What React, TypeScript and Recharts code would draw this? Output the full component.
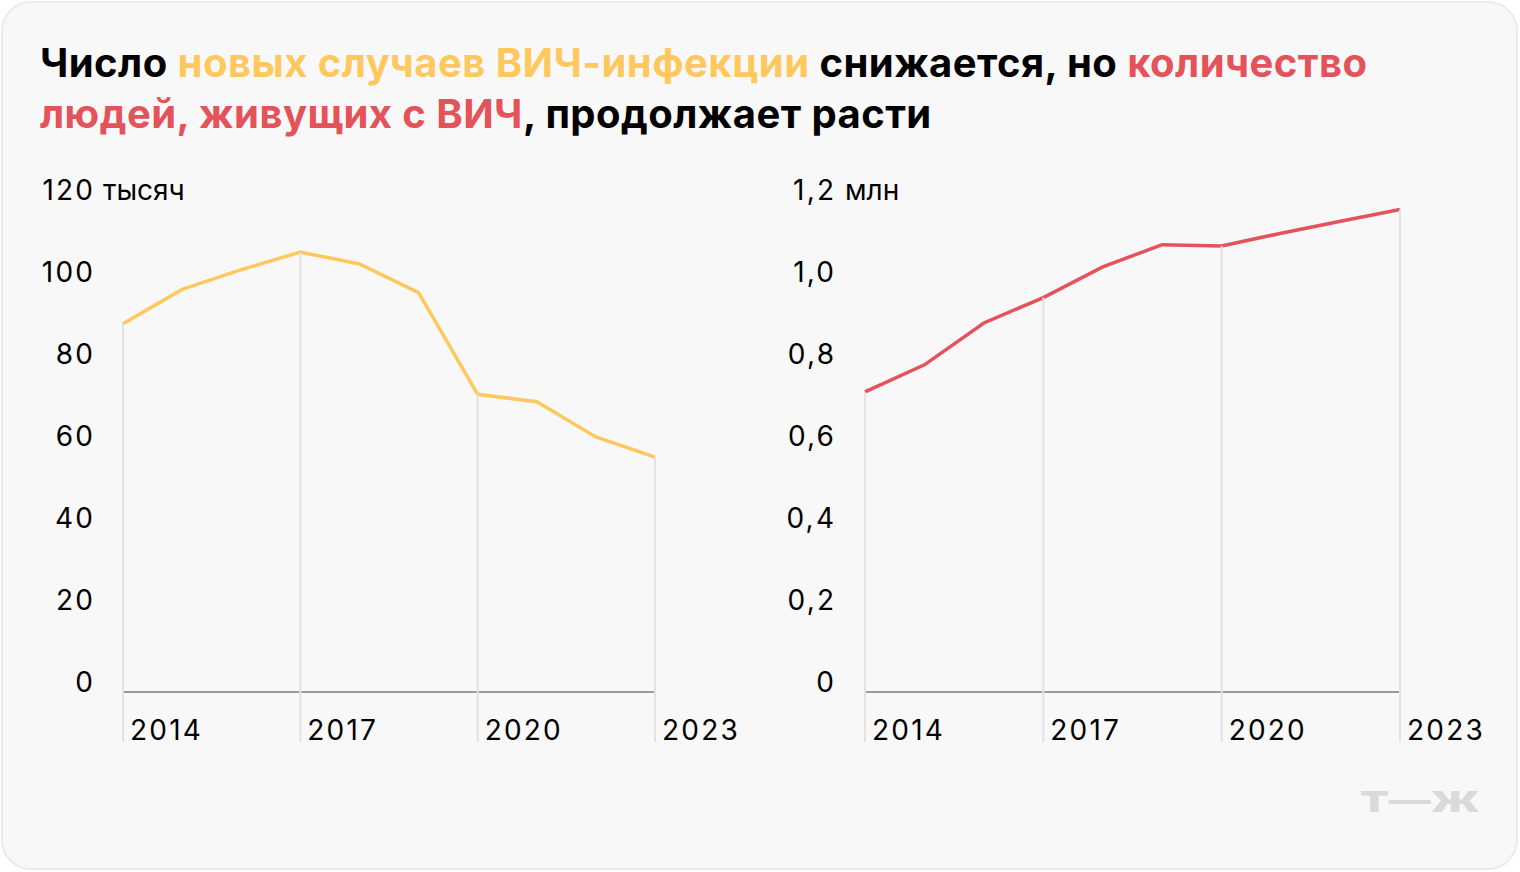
import { LineChart, Line, XAxis, YAxis } from 'recharts';

const years = [2014, 2015, 2016, 2017, 2018, 2019, 2020, 2021, 2022, 2023];
// новые случаи, тысяч
const newCases = [89.8, 98.2, 103.0, 107.3, 104.4, 97.4, 72.6, 70.8, 62.2, 57.3];
// живущие с ВИЧ, млн
const livingWithHiv = [0.732, 0.798, 0.9, 0.962, 1.037, 1.091, 1.088, 1.119, 1.148, 1.177];

const leftTicks = [0, 20, 40, 60, 80, 100, 120];
const rightTicks = [0, 0.2, 0.4, 0.6, 0.8, 1.0, 1.2];

const YELLOW = '#ffc85f';
const RED = '#e4525a';
const FONT = 'Inter, "Noto Sans", sans-serif';
const DIGIT_SPACING = 2.2;

const CHART_H = 620;
const MARGIN = { top: 50, right: 100, bottom: 48, left: 0 };
const X_AXIS_H = 30;
const PLOT_BOTTOM = CHART_H - MARGIN.bottom - X_AXIS_H;
const DROP_BOTTOM = PLOT_BOTTOM + 50;

const leftData = years.map((year, i) => ({ year, value: newCases[i] }));
const rightData = years.map((year, i) => ({ year, value: livingWithHiv[i] }));

const DropLine = (props: any) => {
  const { cx, cy, index } = props;
  if (index % 3 !== 0) return <g key={`d${index}`} />;
  return (
    <line key={`d${index}`} x1={cx} x2={cx} y1={cy} y2={DROP_BOTTOM} stroke="#e2e2e2" strokeWidth={2} />
  );
};

const YearTick = (props: any) => {
  const { x, y, payload } = props;
  return (
    <text
      x={x + 7}
      y={y + 48}
      textAnchor="start"
      fontSize={28}
      fontFamily={FONT}
      letterSpacing={DIGIT_SPACING}
      fill="#000"
    >
      {payload.value}
    </text>
  );
};

const makeValueTick = (format: (v: number) => string, top: number, unit: string, gap: number) => (props: any) => {
  const { x, y, payload } = props;
  const v = payload.value;
  return (
    <g>
      <text
        x={x + DIGIT_SPACING}
        y={y}
        textAnchor="end"
        fontSize={28}
        fontFamily={FONT}
        letterSpacing={DIGIT_SPACING}
        fill="#000"
      >
        {format(v)}
      </text>
      {Math.abs(v - top) < 1e-9 && (
        <text x={x + gap} y={y} textAnchor="start" fontSize={28} fontFamily={FONT} fill="#000">
          {unit}
        </text>
      )}
    </g>
  );
};

const LeftTick = makeValueTick((v) => String(v), 120, 'тысяч', 10);
const RightTick = makeValueTick((v) => (v === 0 ? '0' : v.toFixed(1).replace('.', ',')), 1.2, 'млн', 11);

const Panel = ({ data, color, ticks, max, Tick, tickMargin, width }: any) => (
  <LineChart width={width} height={CHART_H} data={data} margin={MARGIN}>
    <XAxis
      dataKey="year"
      height={X_AXIS_H}
      interval={2}
      tickLine={false}
      tickSize={0}
      tickMargin={0}
      axisLine={{ stroke: '#999', strokeWidth: 2 }}
      tick={<YearTick />}
    />
    <YAxis
      width={123}
      domain={[0, max]}
      ticks={ticks}
      axisLine={false}
      tickLine={false}
      tickSize={0}
      tickMargin={tickMargin}
      tick={<Tick />}
    />
    <Line dataKey="value" stroke="none" dot={DropLine} activeDot={false} isAnimationActive={false} />
    <Line dataKey="value" type="linear" stroke={color} strokeWidth={3.5} dot={false} activeDot={false} isAnimationActive={false} />
  </LineChart>
);

export default function App() {
  return (
    <div style={{ position: 'absolute', left: 0, top: 0, width: 1520, height: 872, background: '#fff', fontFamily: FONT }}>
      <div
        style={{
          position: 'absolute',
          left: 1,
          top: 1,
          width: 1517,
          height: 869,
          boxSizing: 'border-box',
          border: '2px solid #ebebeb',
          borderRadius: 30,
          background: '#f8f8f8',
        }}
      />
      <div
        style={{
          position: 'absolute',
          left: 40,
          top: 37,
          width: 1460,
          fontSize: 40,
          letterSpacing: 0.45,
          lineHeight: '51px',
          fontWeight: 700,
          color: '#000',
        }}
      >
        Число <span style={{ color: YELLOW }}>новых случаев ВИЧ-инфекции</span> снижается, но{' '}
        <span style={{ color: RED }}>количество</span>
        <br />
        <span style={{ color: RED }}>людей, живущих с ВИЧ</span>, продолжает расти
      </div>
      <div style={{ position: 'absolute', left: 0, top: 150 }}>
        <Panel data={leftData} color={YELLOW} ticks={leftTicks} max={120} Tick={LeftTick} tickMargin={30} width={755} />
      </div>
      <div style={{ position: 'absolute', left: 742, top: 150 }}>
        <Panel data={rightData} color={RED} ticks={rightTicks} max={1.2} Tick={RightTick} tickMargin={31} width={758} />
      </div>
      <div
        style={{
          position: 'absolute',
          left: 1360,
          top: 785,
          fontSize: 28,
          fontWeight: 900,
          color: '#dadada',
          transform: 'scaleX(1.5)',
          transformOrigin: 'left top',
          lineHeight: '34px',
        }}
      >
        Т—Ж
      </div>
    </div>
  );
}
